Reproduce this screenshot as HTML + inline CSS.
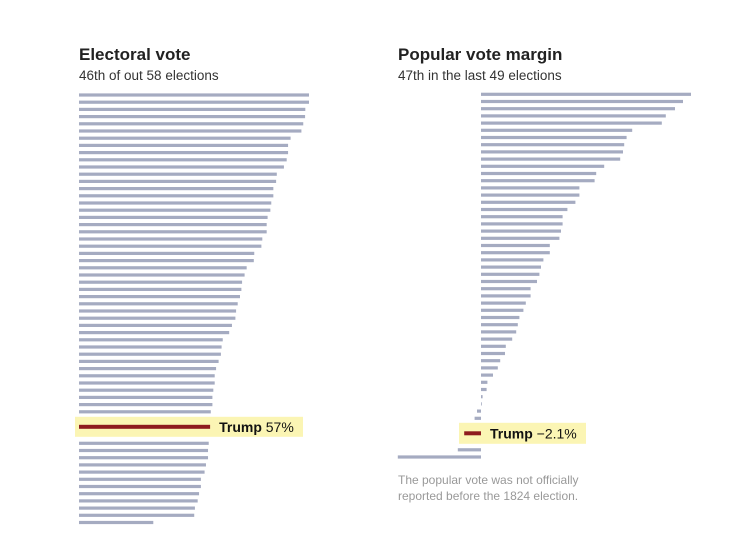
<!DOCTYPE html>
<html><head><meta charset="utf-8"><style>
body{margin:0;background:#fff;width:751px;height:546px;overflow:hidden;font-family:"Liberation Sans",sans-serif}
svg{display:block}
</style></head><body>
<svg width="751" height="546" id="svg">
<text x="79" y="60" font-size="17" font-weight="bold" fill="#222">Electoral vote</text>
<text x="79" y="80" font-size="13.5" fill="#333">46th of out 58 elections</text>
<text x="398" y="60" font-size="17" font-weight="bold" fill="#222">Popular vote margin</text>
<text x="398" y="80" font-size="13.5" fill="#333">47th in the last 49 elections</text>
<text x="398" y="484" font-size="12" fill="#999">The popular vote was not officially</text>
<text x="398" y="500" font-size="12" fill="#999">reported before the 1824 election.</text>
</svg>
<script>
const electoral = [100,100,98.4,98.3,97.5,96.7,92.0,90.9,90.9,90.3,89.1,86.0,85.7,84.5,84.5,83.6,83.2,82.0,81.6,81.6,79.7,79.3,76.2,76.0,72.9,72.0,70.9,70.6,70.0,69.0,68.3,68.0,66.5,65.3,62.5,62.0,61.7,60.7,59.6,59.0,59.0,58.4,58.0,58.0,57.3,57,56.4,56.1,56.1,55.2,54.6,53.0,53.0,52.2,51.6,50.4,50.1,32.3];
const electoralTrumpIndex = 45;
const electoralLabel = "57%";
const popular = [26.25,25.25,24.25,23.1,22.6,18.9,18.2,17.9,17.75,17.4,15.4,14.4,14.2,12.3,12.3,11.8,10.8,10.2,10.2,10.0,9.8,8.6,8.6,7.8,7.5,7.3,7.0,6.2,6.2,5.6,5.3,4.8,4.6,4.4,3.9,3.1,3.0,2.4,2.1,1.5,0.8,0.7,0.2,0.1,-0.5,-0.8,-2.1,-2.9,-10.4];
const popularTrumpIndex = 46;
const popularLabel = "\u22122.1%";

const svg = document.getElementById('svg');
const NS = 'http://www.w3.org/2000/svg';
function mk(tag, attrs){const e=document.createElementNS(NS,tag);for(const k in attrs)e.setAttribute(k,attrs[k]);svg.appendChild(e);return e;}
function rowY(i, trump, y0){ if(i<trump) return y0+i*7.2; if(i===trump) return y0+(trump-1)*7.2+15; return y0+(trump-1)*7.2+15+16.5+(i-trump-1)*7.2; }
const GRAY='#a5abc1', RED='#8e1b1e';

// Electoral
const ex = v => 79 + v*2.3;
electoral.forEach((v,i)=>{
  const y = rowY(i, electoralTrumpIndex, 95);
  if(i===electoralTrumpIndex){
    const hl = mk('rect',{x:75,y:y-10,width:228,height:20,fill:'#fbf5b4'});
    
    
    const b = mk('rect',{x:79,y:y-2,width:ex(v)-79,height:4,fill:RED});
    
    
    const t = mk('text',{x:ex(v)+9,y:y+5,'font-size':14,fill:'#111'});
    t.innerHTML = '<tspan font-weight="bold">Trump</tspan> '+electoralLabel;
    
    
  } else {
    const b = mk('rect',{x:79,y:y-1.6,width:ex(v)-79,height:3.2,fill:GRAY});
    
    
  }
});

// Popular
const px = v => 481 + v*8;
popular.forEach((v,i)=>{
  const y = rowY(i, popularTrumpIndex, 94.3);
  const x0 = Math.min(px(0),px(v)), w = Math.max(Math.abs(px(v)-px(0)),0.8);
  if(i===popularTrumpIndex){
    const hl = mk('rect',{x:459,y:y-10.5,width:127,height:21,fill:'#fbf5b4'});
    
    
    const b = mk('rect',{x:x0,y:y-2,width:w,height:4,fill:RED});
    
    
    const t = mk('text',{x:490,y:y+5,'font-size':14,fill:'#111'});
    t.innerHTML = '<tspan font-weight="bold">Trump</tspan>  '+popularLabel;
    
    
  } else {
    const b = mk('rect',{x:x0,y:y-1.6,width:w,height:3.2,fill:GRAY});
    
    
  }
});
</script>
</body></html>
